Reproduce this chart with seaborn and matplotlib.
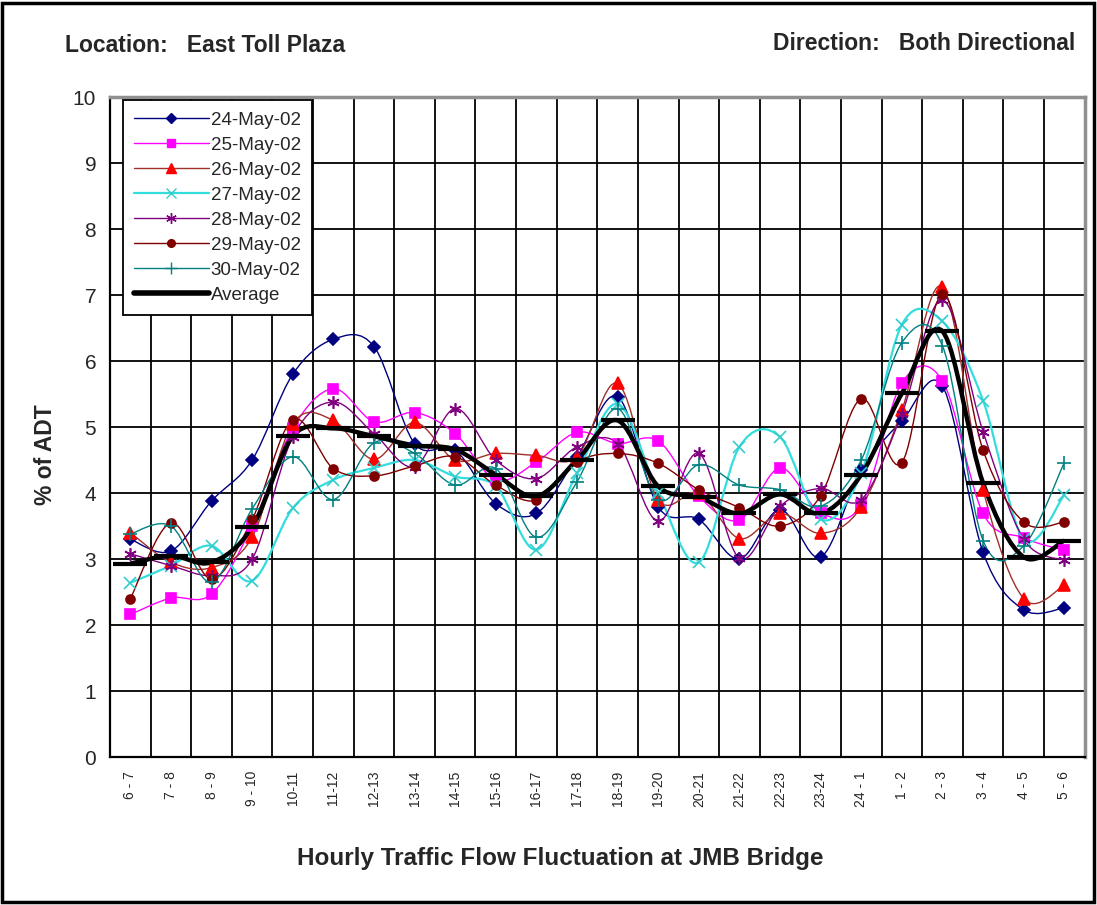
import numpy as np
import pandas as pd
import matplotlib
matplotlib.use("Agg")
import matplotlib.pyplot as plt
import seaborn as sns
from matplotlib.path import Path
from matplotlib.patches import PathPatch, Rectangle
from matplotlib.lines import Line2D

# hourly periods on the x axis
periods = ['6 - 7', '7 - 8', '8 - 9', '9 - 10', '10-11', '11-12', '12-13', '13-14',
           '14-15', '15-16', '16-17', '17-18', '18-19', '19-20', '20-21', '21-22',
           '22-23', '23-24', '24 - 1', '1 - 2', '2 - 3', '3 - 4', '4 - 5', '5 - 6']

# % of ADT per day
may24 = [3.30, 3.12, 3.88, 4.50, 5.80, 6.33, 6.22, 4.75, 4.65, 3.84, 3.69, 4.55,
         5.46, 3.79, 3.60, 3.00, 3.75, 3.03, 4.35, 5.09, 5.62, 3.10, 2.23, 2.26]
may25 = [2.16, 2.41, 2.47, 3.50, 4.98, 5.58, 5.08, 5.22, 4.90, 4.20, 4.47, 4.92,
         4.75, 4.79, 3.95, 3.59, 4.38, 3.70, 3.82, 5.67, 5.70, 3.69, 3.32, 3.13]
may26 = [3.40, 2.95, 2.87, 3.33, 5.05, 5.10, 4.51, 5.07, 4.50, 4.60, 4.57, 4.55,
         5.66, 3.90, 4.00, 3.31, 3.69, 3.39, 3.79, 5.26, 7.12, 4.05, 2.40, 2.60]
may27 = [2.64, 2.90, 3.20, 2.67, 3.77, 4.20, 4.38, 4.50, 4.25, 4.10, 3.14, 4.30,
         5.35, 4.00, 2.95, 4.70, 4.85, 3.60, 4.30, 6.55, 6.60, 5.40, 3.30, 3.97]
may28 = [3.08, 2.90, 2.75, 3.00, 4.85, 5.38, 4.90, 4.40, 5.28, 4.50, 4.22, 4.70,
         4.75, 3.57, 4.60, 3.01, 3.80, 4.07, 3.90, 5.20, 6.93, 4.93, 3.30, 2.98]
may29 = [2.40, 3.55, 2.70, 3.60, 5.11, 4.37, 4.26, 4.41, 4.55, 4.12, 3.89, 4.47,
         4.60, 4.45, 4.05, 3.78, 3.50, 3.96, 5.43, 4.46, 7.02, 4.65, 3.56, 3.56]
may30 = [3.38, 3.50, 2.65, 3.76, 4.55, 3.90, 4.76, 4.60, 4.12, 4.37, 3.33, 4.17,
         5.28, 3.90, 4.43, 4.12, 4.05, 3.80, 4.50, 6.28, 6.23, 3.28, 3.20, 4.46]
average = [2.93, 3.05, 2.95, 3.48, 4.86, 4.98, 4.86, 4.72, 4.66, 4.28, 3.95, 4.50,
           5.10, 4.10, 3.94, 3.69, 3.98, 3.69, 4.28, 5.51, 6.45, 4.15, 3.03, 3.28]

series_names = ['24-May-02', '25-May-02', '26-May-02', '27-May-02',
                '28-May-02', '29-May-02', '30-May-02', 'Average']
series_values = [may24, may25, may26, may27, may28, may29, may30, average]

# style per series: line colour, marker, marker colour, marker size, line width
styles = {
    '24-May-02': dict(lc='#000080', m='D', mc='#000080', ms=6, lw=1.0),
    '25-May-02': dict(lc='#ff00ff', m='s', mc='#ff00ff', ms=7, lw=1.0),
    '26-May-02': dict(lc='#a0302a', m='^', mc='#ff0000', ms=8, lw=1.0),
    '27-May-02': dict(lc='#33dddd', m='x', mc='#33cccc', ms=8, lw=1.6),
    '28-May-02': dict(lc='#800080', m=(6, 2, 0), mc='#800080', ms=9, lw=1.0),
    '29-May-02': dict(lc='#800000', m='o', mc='#800000', ms=6.5, lw=1.0),
    '30-May-02': dict(lc='#008080', m='+', mc='#008080', ms=10, lw=1.0),
    'Average':   dict(lc='#000000', m='_', mc='#000000', ms=24, lw=3.2),
}

rows = []
for name, vals in zip(series_names, series_values):
    for i, v in enumerate(vals):
        rows.append({'series': name, 'pos': i, 'period': periods[i], 'pct': v})
df = pd.DataFrame(rows)

sns.set_style('white')
plt.rcParams['font.family'] = ['Liberation Sans Narrow', 'Liberation Sans', 'DejaVu Sans']


def smooth_path(xs, ys):
    # Bezier curve through the points, like Excel's "smoothed line"
    xs = np.asarray(xs, float)
    ys = np.asarray(ys, float)
    pts = np.column_stack([xs, ys])
    ext = np.vstack([pts[0], pts, pts[-1]])
    verts = [pts[0]]
    codes = [Path.MOVETO]
    for i in range(len(pts) - 1):
        p0, p1, p2, p3 = ext[i], ext[i + 1], ext[i + 2], ext[i + 3]
        c1 = p1 + (p2 - p0) / 6.0
        c2 = p2 - (p3 - p1) / 6.0
        verts += [c1, c2, p2]
        codes += [Path.CURVE4, Path.CURVE4, Path.CURVE4]
    return Path(verts, codes)


fig = plt.figure(figsize=(10.97, 9.05), dpi=100)
ax = fig.add_axes([0.1003, 0.1635, 0.8884, 0.7293])

for name in series_names:
    st = styles[name]
    sub = df[df['series'] == name]
    patch = PathPatch(smooth_path(sub['pos'], sub['pct']), fill=False,
                      edgecolor=st['lc'], lw=st['lw'], zorder=3 if name != 'Average' else 4)
    ax.add_patch(patch)
    sns.lineplot(data=sub, x='pos', y='pct', ax=ax, linestyle='none',
                 marker=st['m'], markersize=st['ms'], color=st['mc'],
                 markeredgecolor=st['mc'], markeredgewidth=1.2 if name != 'Average' else 3,
                 legend=False, zorder=5)

ax.set_xlim(-0.5, len(periods) - 0.5)
ax.set_ylim(0, 10)
ax.set_yticks(range(0, 11))
ax.set_xticks(np.arange(-0.5, len(periods), 1.0))
ax.set_xticklabels([])
ax.set_xticks(np.arange(len(periods)), minor=True)
ax.set_xticklabels(periods, minor=True, rotation=90, fontsize=10)
ax.tick_params(axis='x', which='major', length=6, width=1.2, direction='out', color='black')
ax.tick_params(axis='x', which='minor', length=0, pad=10)
ax.tick_params(axis='y', length=6, width=1.2, direction='out', labelsize=15, pad=4, color='black')
ax.grid(True, which='major', color='black', lw=1.3)
ax.set_axisbelow(True)
ax.set_xlabel('')
ax.set_ylabel('')
for side in ['left', 'bottom']:
    ax.spines[side].set_color('black')
    ax.spines[side].set_linewidth(1.6)
for side in ['top', 'right']:
    ax.spines[side].set_color('#909090')
    ax.spines[side].set_linewidth(2.5)

handles = []
for name in series_names:
    st = styles[name]
    handles.append(Line2D([0], [0], color=st['lc'], lw=st['lw'] if name != 'Average' else 4,
                          marker=st['m'] if name != 'Average' else None,
                          markersize=st['ms'] * 0.85, markerfacecolor=st['mc'],
                          markeredgecolor=st['mc']))
leg = ax.legend(handles, series_names, loc='upper left', bbox_to_anchor=(0.013, 0.995),
                borderaxespad=0, fontsize=13.5, frameon=True, fancybox=False,
                edgecolor='black', framealpha=1, handlelength=4.0, handletextpad=0.1,
                labelspacing=0.42, borderpad=0.6)
leg.get_frame().set_linewidth(1.3)

fig.text(65 / 1097, 1 - 45 / 905, 'Location:   East Toll Plaza', fontsize=16.5,
         fontweight='bold', va='center', ha='left')
fig.text(1075 / 1097, 1 - 43 / 905, 'Direction:   Both Directional', fontsize=16.5,
         fontweight='bold', va='center', ha='right')
fig.text(45 / 1097, 1 - 455 / 905, '% of ADT', fontsize=16.5, fontweight='bold',
         rotation=90, va='center', ha='center')
fig.text(560 / 1097, 1 - 858 / 905, 'Hourly Traffic Flow Fluctuation at JMB Bridge',
         fontsize=17.5, fontweight='bold', va='center', ha='center')

fig.patches.append(Rectangle((0.002, 0.003), 0.995, 0.994, transform=fig.transFigure,
                             fill=False, edgecolor='black', lw=2.5))

fig.savefig('out.png', dpi=100, facecolor='white')
